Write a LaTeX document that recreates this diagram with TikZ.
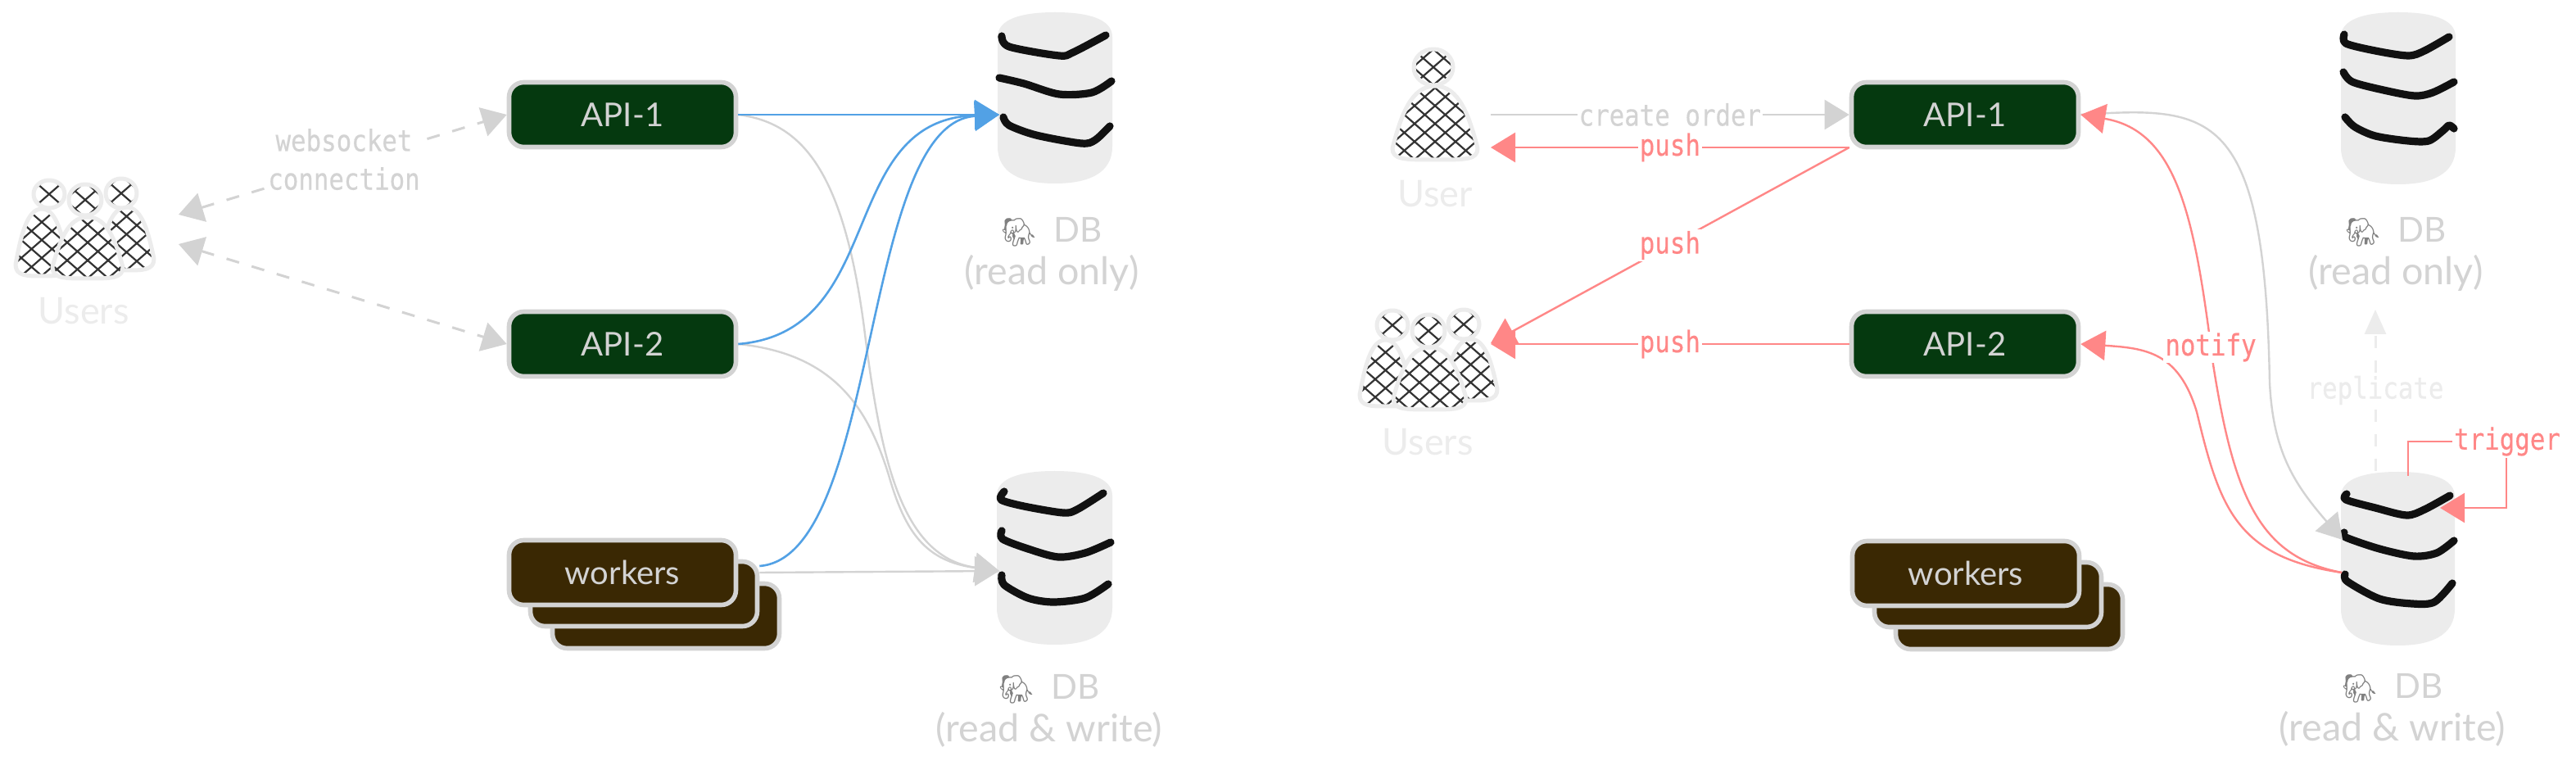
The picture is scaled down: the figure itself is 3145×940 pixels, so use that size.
\documentclass[tikz,border=0pt]{standalone}
\usepackage{fontspec}
\setmainfont{Lato}
\setmonofont{DejaVu Sans Mono}[FakeBold=0.4]
\newfontfamily\emojifont{Noto Emoji}
\usetikzlibrary{arrows.meta,calc}
\definecolor{cgray}{HTML}{D3D3D3}
\definecolor{clight}{HTML}{ECECEC}
\definecolor{cgreen}{HTML}{05390F}
\definecolor{cbrown}{HTML}{3A2803}
\definecolor{cred}{HTML}{FF8787}
\definecolor{cblue}{HTML}{52A1E5}
\definecolor{cink}{HTML}{111111}
\definecolor{chatch}{HTML}{333333}
\tikzset{
  cardbox/.style={draw=cgray,line width=2.8pt,rounded corners=9pt,minimum width=138.5pt,minimum height=39.5pt,inner sep=0pt,text=cgray,font=\fontsize{20}{24}\selectfont},
  apibox/.style={cardbox,fill=cgreen},
  workbox/.style={cardbox,fill=cbrown},
  headtip/.style={-{Triangle[length=15pt,width=18pt]}},
  graylink/.style={headtip,draw=cgray,line width=1.2pt},
  bluelink/.style={headtip,draw=cblue,line width=1.3pt},
  redlink/.style={headtip,draw=cred,line width=1.2pt},
  monolabel/.style={font=\ttfamily\fontsize{15.4}{17.1}\selectfont,fill=white,inner sep=1pt,align=center},
  dashlink/.style={{Triangle[length=15pt,width=18pt]}-{Triangle[length=15pt,width=18pt]},draw=cgray,line width=1.5pt,dash pattern=on 8pt off 8pt},
  handlabel/.style={font=\fontsize{21}{26}\selectfont,text=cgray,align=center,inner sep=0pt},
  userlabel/.style={font=\fontsize{22.5}{24}\selectfont,text=clight,inner sep=0pt},
  dbbody/.style={fill=clight},
  dbstripe/.style={draw=cink,line width=4.6pt,line cap=round,line join=round},
  hatchline/.style={draw=chatch,line width=1.1pt},
  personline/.style={draw=clight,line width=2.5pt,line join=round},
}
\newcommand{\tallmono}[1]{\scalebox{1}[1.17]{#1}}
\newcommand{\tallblock}[1]{\scalebox{1}[1.17]{\begin{tabular}{@{}c@{}}#1\end{tabular}}}
\newcommand{\lineb}[1]{{\fontsize{23.3}{26}\selectfont #1}}
\newcommand{\elephant}{\textcolor{gray}{\emojifont\fontsize{17}{26}\selectfont 🐘}}
% hatched shape: centre x, centre y, path
\newcommand{\hatchedshape}[3]{%
  \begin{scope}
    \fill[white] #3;
    \clip #3;
    \foreach \i in {-8,...,8}{
      \draw[hatchline] ({#1+\i*25-120},{#2-105}) -- ({#1+\i*25+120},{#2+105});
      \draw[hatchline] ({#1+\i*25+120},{#2-105}) -- ({#1+\i*25-120},{#2+105});
    }
  \end{scope}
  \draw[personline] #3;
}
% person: head cx cy rx ry, body x0 x1 y0 y1
\newcommand{\personfig}[8]{%
  \pgfmathsetmacro{\xm}{(#5+#6)/2}
  \pgfmathsetmacro{\w}{#6-#5}
  \pgfmathsetmacro{\h}{#8-#7}
  \pgfmathsetmacro{\ax}{#5+0.10*\w}
  \pgfmathsetmacro{\bx}{\xm-0.28*\w}
  \pgfmathsetmacro{\cx}{\xm+0.28*\w}
  \pgfmathsetmacro{\dx}{#6-0.10*\w}
  \pgfmathsetmacro{\ay}{#7+0.40*\h}
  \pgfmathsetmacro{\ey}{#8-14}
  \pgfmathsetmacro{\fx}{#6-14}
  \pgfmathsetmacro{\gx}{#5+14}
  \hatchedshape{\xm}{\ey-30}{(#5,\ey) .. controls (\ax,\ay) and (\bx,#7) .. (\xm,#7) .. controls (\cx,#7) and (\dx,\ay) .. (#6,\ey) .. controls (#6,#8) and (\fx,#8) .. (\xm,#8) .. controls (\gx,#8) and (#5,#8) .. (#5,\ey) -- cycle}
  \hatchedshape{#1}{#2}{(#1,#2) ellipse (#3 and #4)}
}
% db silhouette: x0 x1 y0 y1
\newcommand{\dbshape}[4]{%
  \pgfmathsetmacro{\xm}{(#1+#2)/2}
  \pgfmathsetmacro{\ta}{#3+30}
  \pgfmathsetmacro{\ba}{#4-45}
  \fill[dbbody] (#1,\ta) .. controls (#1,#3+8) and (\xm-40,#3) .. (\xm,#3) .. controls (\xm+40,#3) and (#2,#3+8) .. (#2,\ta) -- (#2,\ba) .. controls (#2,#4-12) and (\xm+40,#4) .. (\xm,#4) .. controls (\xm-40,#4) and (#1,#4-12) .. (#1,\ba) -- cycle;
}
\begin{document}
\begin{tikzpicture}[x=0.5pt,y=-0.5pt]
\useasboundingbox (0,0) rectangle (3145,940);
\fill[white] (0,0) rectangle (3145,940);

% ---------- left panel ----------
\personfig{60}{237}{19}{17}{19}{83}{255}{337}
\personfig{148}{236}{19}{18}{121}{188}{253}{330}
\personfig{104}{244}{20}{19}{64}{150}{265}{340}
\node[userlabel] (usersA) at (102,380) {Users};
\coordinate (usersAup) at (218,262);
\coordinate (usersAdown) at (218,298);

\dbshape{1218}{1358}{15}{224}
\draw[dbstripe] plot[smooth,tension=0.5] coordinates {(1223,44) (1232,57) (1293,68) (1310,64) (1350,43)};
\draw[dbstripe] plot[smooth,tension=0.5] coordinates {(1220,95) (1250,102) (1293,115) (1333,113) (1357,99)};
\draw[dbstripe] plot[smooth,tension=0.5] coordinates {(1225,143) (1232,153) (1265,165) (1320,175) (1337,171) (1355,154)};
\node[handlabel] (dbA) at (1284,310) {\elephant\ \ DB\\\lineb{(read only)}};
\coordinate (dbAin) at (1220,140);

\dbshape{1217}{1358}{575}{787}
\draw[dbstripe] plot[smooth,tension=0.5] coordinates {(1226,600) (1222,610) (1250,618) (1298,626) (1315,622) (1347,602)};
\draw[dbstripe] plot[smooth,tension=0.5] coordinates {(1223,648) (1224,658) (1255,670) (1292,680) (1325,675) (1356,662)};
\draw[dbstripe] plot[smooth,tension=0.5] coordinates {(1223,702) (1226,714) (1255,730) (1286,735) (1325,730) (1353,713)};
\node[handlabel] (dbB) at (1281,868) {\elephant\ \ DB\\\lineb{(read \& write)}};
\coordinate (dbBin) at (1220,697);

\node[apibox] (apiA) at (760,140) {API-1};
\node[apibox] (apiB) at (760,420) {API-2};
\node[workbox] (workC) at (813,752) {};
\node[workbox] (workD) at (786,725) {};
\node[workbox] (workE) at (760,699) {workers};
\coordinate (workAblue) at (workD.east |- 0,691);
\coordinate (workAgray) at (workD.east |- workE.east);

\draw[dashlink] (usersAup) -- (apiA.west);
\draw[dashlink] (usersAdown) -- (apiB.west);
\node[monolabel,text=cgray] (wsLabel) at (420,200) {\tallblock{websocket\\[3pt]connection}};

\draw[graylink] (apiA.east) .. controls (980,150) and (1030,210) .. (1055,400) .. controls (1075,560) and (1100,680) .. (dbBin);
\draw[graylink] (apiB.east) .. controls (1020,432) and (1060,500) .. (1085,580) .. controls (1105,650) and (1130,685) .. (dbBin);
\draw[graylink] (workAgray) -- (dbBin);
\draw[bluelink] (apiB.east) .. controls (1085,405) and (1020,146) .. (dbAin);
\draw[bluelink] (workAblue) .. controls (1075,680) and (1050,150) .. (dbAin);
\draw[bluelink] (apiA.east) -- (dbAin);

% ---------- right panel ----------
\personfig{1750}{82}{24}{22}{1700}{1804}{105}{195}
\node[userlabel] (userR) at (1752,237) {User};
\coordinate (userRin) at (1820,140);
\coordinate (userRout) at (1820,180);

\personfig{1700}{397}{19}{18}{1660}{1723}{415}{496}
\personfig{1787}{396}{19}{18}{1763}{1828}{414}{489}
\personfig{1744}{404}{20}{20}{1701}{1790}{424}{500}
\node[userlabel] (usersR) at (1743,540) {Users};
\coordinate (usersRin) at (1820,419);

\dbshape{2858}{2998}{15}{225}
\draw[dbstripe] plot[smooth,tension=0.5] coordinates {(2862,42) (2864,53) (2900,62) (2940,68) (2960,62) (2990,45)};
\draw[dbstripe] plot[smooth,tension=0.5] coordinates {(2861,88) (2872,100) (2910,110) (2948,117) (2970,113) (2996,100)};
\draw[dbstripe] plot[smooth,tension=0.5] coordinates {(2863,143) (2875,155) (2900,166) (2940,172) (2965,172) (2982,160) (2990,153) (2996,157)};
\node[handlabel] (dbC) at (2925,310) {\elephant\ \ DB\\\lineb{(read only)}};
\coordinate (dbCin) at (2900,378);

\dbshape{2858}{2997}{576}{788}
\draw[dbstripe] plot[smooth,tension=0.5] coordinates {(2865,603) (2864,610) (2900,620) (2938,629) (2960,622) (2991,605)};
\draw[dbstripe] plot[smooth,tension=0.5] coordinates {(2862,650) (2864,656) (2905,670) (2947,679) (2975,675) (2996,660)};
\draw[dbstripe] plot[smooth,tension=0.5] coordinates {(2863,701) (2866,710) (2905,731) (2945,737) (2972,735) (2994,712)};
\node[handlabel] (dbD) at (2921,867) {\elephant\ \ DB\\\lineb{(read \& write)}};
\coordinate (dbDin) at (2860,659);
\coordinate (dbDout) at (2859,699);
\coordinate (dbDtop) at (2900,575);
\coordinate (trigA) at (2940,581);
\coordinate (trigB) at (3060,539);
\coordinate (trigC) at (2979,620);

\node[apibox] (apiC) at (2399,140) {API-1};
\node[apibox] (apiD) at (2399,420) {API-2};
\node[workbox] (workF) at (2453,753) {};
\node[workbox] (workG) at (2427,726) {};
\node[workbox] (workH) at (2400,700) {workers};

\draw[graylink] (userRin) -- node[monolabel,text=cgray] (coLabel) {\tallmono{create order}} (apiC.west);
\draw[redlink] (apiC.west |- userRout) -- node[monolabel,text=cred] (pushA) {\tallmono{push}} (userRout);
\draw[redlink] (apiC.west |- userRout) -- node[monolabel,text=cred] (pushB) {\tallmono{push}} (usersRin);
\draw[redlink] (apiD.west) -- node[monolabel,text=cred] (pushC) {\tallmono{push}} (usersRin |- apiD.west);

\draw[draw=clight,line width=1.5pt,dash pattern=on 7.5pt off 7.5pt,-{Triangle[length=15pt,width=13pt,fill=clight]}] (dbDtop) -- node[monolabel,text=clight] (repLabel) {\tallmono{replicate}} (dbCin);

\draw[graylink] (apiC.east) .. controls (2700,130) and (2765,130) .. (2771,467) .. controls (2775,550) and (2800,590) .. (dbDin);
\draw[redlink] (dbDout) .. controls (2760,680) and (2728,610) .. (2702,445) .. controls (2680,270) and (2660,160) .. (apiC.east);
\draw[redlink] (dbDout) .. controls (2730,680) and (2710,620) .. (2682,503) .. controls (2660,430) and (2620,425) .. (apiD.east);
\node[monolabel,text=cred] (notifyLabel) at (2699,424) {\tallmono{notify}};

\draw[redlink] (trigA) |- (trigB) |- (trigC);
\node[monolabel,text=cred] (trigLabel) at (3061,539) {\tallmono{trigger}};
\end{tikzpicture}
\end{document}
